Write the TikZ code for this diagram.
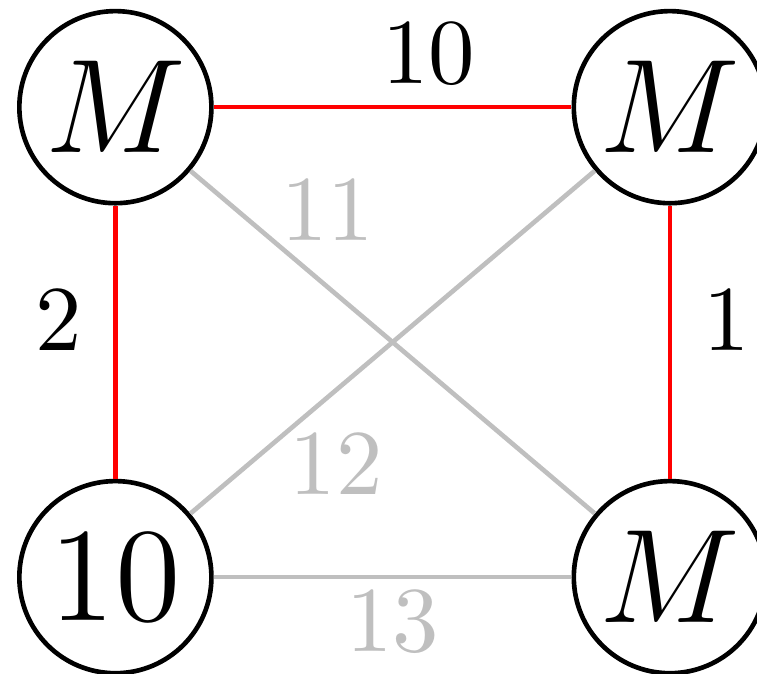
\documentclass[tikz,border=0pt]{standalone}
\usepackage{amsmath,amssymb}
\usetikzlibrary{positioning}
\tikzset{
  vert/.style={draw,circle,minimum size=20.7pt,inner sep=0pt,font=\Large},
  chosen/.style={draw=red},
  unused/.style={lightgray},
}
\begin{document}
\begin{tikzpicture}[line width=0.5pt]
\useasboundingbox (-0.437,0.406) rectangle (2.43,-2.144);
\node[vert] (tl) at (0,0) {$M$};
\node[vert] (tr) at (2.1,0) {$M$};
\node[vert] (bl) at (0,-1.78) {$10$};
\node[vert] (br) at (2.1,-1.78) {$M$};
% edges left out
\draw[unused] (tl) -- node[pos=0.34,above=1.5pt] (w11) {$11$} (br);
\draw[unused] (bl) -- node[pos=0.36,below=1.2pt] (w12) {$12$} (tr);
\draw[unused] (bl) -- node[midway,below=-2pt] (w13) {$13$} (br);
% edges of the tree
\draw[chosen] (tl) -- node[pos=0.6,above=-1pt] (w10) {$10$} (tr);
\draw[chosen] (tl) -- node[pos=0.42,left] (w2) {$2$} (bl);
\draw[chosen] (tr) -- node[pos=0.42,right] (w1) {$1$} (br);
\end{tikzpicture}
\end{document}
